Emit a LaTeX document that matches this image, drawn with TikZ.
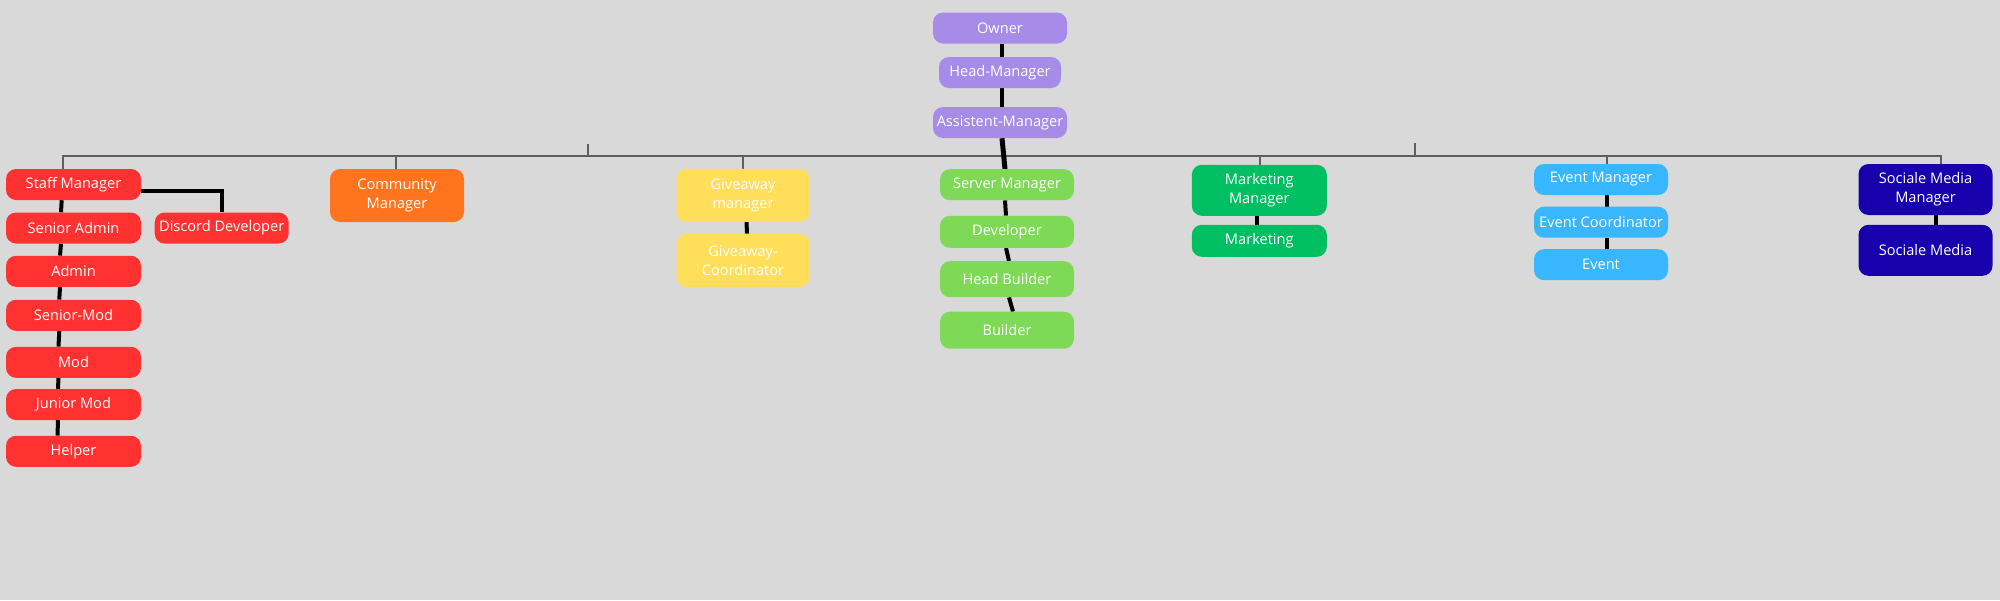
\documentclass[tikz,border=0pt]{standalone}
\usepackage{fontspec}
\setmainfont{Open Sans}
\usetikzlibrary{backgrounds}
\definecolor{bgc}{HTML}{D9D9D9}
\definecolor{cpurple}{HTML}{A68BE8}
\definecolor{cred}{HTML}{FF3131}
\definecolor{corange}{HTML}{FF751F}
\definecolor{cyellow}{HTML}{FFDE59}
\definecolor{clgreen}{HTML}{7ED957}
\definecolor{cgreen}{HTML}{00BF63}
\definecolor{cblue}{HTML}{38B6FF}
\definecolor{cdblue}{HTML}{1800AD}
\definecolor{busgray}{HTML}{5E5E5E}
\tikzset{
  box/.style={rectangle, rounded corners=10pt, minimum width=134pt, inner sep=0pt,
    text=white, align=center, font=\fontsize{14.6}{19}\selectfont},
  onel/.style={box, minimum height=31pt},
  twol/.style={box, minimum height=52pt},
  chain/.style={line width=4pt, black},
  bus/.style={line width=2pt, busgray},
}
\begin{document}
\begin{tikzpicture}[x=1pt,y=-1pt]
\useasboundingbox (0,0) rectangle (2000,600);
% top
\node[onel, fill=cpurple] (owner) at (1000,28) {Owner};
\node[onel, fill=cpurple, minimum width=122pt] (head) at (1000,72.5) {Head-Manager};
\node[onel, fill=cpurple] (asst) at (1000,122.5) {Assistent-Manager};
% staff
\node[onel, fill=cred, minimum width=135pt] (staff) at (73.5,184.5) {Staff Manager};
\node[onel, fill=cred, minimum width=135pt] (senadmin) at (73.5,228) {Senior Admin};
\node[onel, fill=cred, minimum width=135pt] (admin) at (73.5,271.3) {Admin};
\node[onel, fill=cred, minimum width=135pt] (senmod) at (73.5,315.3) {Senior-Mod};
\node[onel, fill=cred, minimum width=135pt] (mod) at (73.5,362.3) {Mod};
\node[onel, fill=cred, minimum width=135pt] (junmod) at (73.5,404.5) {Junior Mod};
\node[onel, fill=cred, minimum width=135pt] (helper) at (73.5,451.3) {Helper};
\node[onel, fill=cred] (discord) at (221.7,228) {Discord Developer};
% community
\node[twol, fill=corange, minimum height=53pt] (community) at (397,195.5) {Community\\Manager};
% giveaway
\node[twol, fill=cyellow, minimum height=53pt, minimum width=133pt] (givmgr) at (743,195.3) {Giveaway\\manager};
\node[twol, fill=cyellow, minimum height=53pt, minimum width=133pt] (givcoord) at (743,260.3) {Giveaway-\\Coordinator};
% server
\node[onel, fill=clgreen] (server) at (1007,184.7) {Server Manager};
\node[onel, fill=clgreen, minimum height=32pt] (dev) at (1007,231.8) {Developer};
\node[onel, fill=clgreen, minimum height=36pt] (hbuild) at (1007,279.2) {Head Builder};
\node[onel, fill=clgreen, minimum height=37pt] (build) at (1007,330.2) {Builder};
% marketing
\node[twol, fill=cgreen, minimum height=51pt, minimum width=135pt] (mktmgr) at (1259.3,190.3) {Marketing\\Manager};
\node[onel, fill=cgreen, minimum height=32pt, minimum width=135pt] (mkt) at (1259.3,240.8) {Marketing};
% event
\node[onel, fill=cblue] (evmgr) at (1601,179.5) {Event Manager};
\node[onel, fill=cblue] (evcoord) at (1601,222.2) {Event Coordinator};
\node[onel, fill=cblue] (event) at (1601,264.7) {Event};
% sociale
\node[twol, fill=cdblue, minimum height=51pt] (socmgr) at (1925.5,189.5) {Sociale Media\\Manager};
\node[twol, fill=cdblue, minimum height=51pt] (soc) at (1925.5,250.3) {Sociale Media};
% connectors
\coordinate (busL) at (62.5,156);
\coordinate (busR) at (1940.7,156);
\coordinate (tickA) at (588,144);
\coordinate (tickB) at (1414.5,143);
\begin{pgfonlayer}{background}
\fill[bgc] (0,0) rectangle (2000,600);
% bus
\draw[bus, line join=miter] ([xshift=-11pt]staff.north) -- (busL) -- (busR) -- ([xshift=15.2pt]socmgr.north);
\draw[bus] (tickA) -- (tickA |- busL);
\draw[bus] (tickB) -- (tickB |- busL);
\draw[bus] ([xshift=-1.3pt]community.north) -- ([xshift=-1.3pt]community.north |- busL);
\draw[bus] (givmgr.north) -- (givmgr.north |- busL);
\draw[bus] ([xshift=0.7pt]mktmgr.north) -- ([xshift=0.7pt]mktmgr.north |- busL);
\draw[bus] ([xshift=5.7pt]evmgr.north) -- ([xshift=5.7pt]evmgr.north |- busL);
% black chains
\draw[chain] ([xshift=1.7pt]owner.south) -- ([xshift=1.7pt]head.north);
\draw[chain] ([xshift=1.7pt]head.south) -- ([xshift=1.7pt]asst.north);
\draw[chain, line width=5pt] ([xshift=2pt]asst.south) -- ([xshift=-2pt]server.north);
\draw[chain] ([xshift=-2pt]server.south) -- ([xshift=-1pt]dev.north);
\draw[chain] ([xshift=-1pt]dev.south) -- ([xshift=2pt]hbuild.north);
\draw[chain] ([xshift=2pt]hbuild.south) -- ([xshift=6pt]build.north);
\draw[chain] ([xshift=-11.8pt]staff.south) -- ([xshift=-12.5pt]senadmin.north);
\draw[chain] ([xshift=-12.5pt]senadmin.south) -- ([xshift=-13.5pt]admin.north);
\draw[chain] ([xshift=-13.5pt]admin.south) -- ([xshift=-14.2pt]senmod.north);
\draw[chain] ([xshift=-14.2pt]senmod.south) -- ([xshift=-15pt]mod.north);
\draw[chain] ([xshift=-15pt]mod.south) -- ([xshift=-15.5pt]junmod.north);
\draw[chain] ([xshift=-15.5pt]junmod.south) -- ([xshift=-16pt]helper.north);
\draw[chain, line join=miter] (staff.east |- 0,190.7) -- (discord.north |- 0,190.7) -- (discord.north);
\draw[chain] ([xshift=3.5pt]givmgr.south) -- ([xshift=4pt]givcoord.north);
\draw[chain] ([xshift=-2.3pt]mktmgr.south) -- ([xshift=-2.3pt]mkt.north);
\draw[chain] ([xshift=5.7pt]evmgr.south) -- ([xshift=5.7pt]evcoord.north);
\draw[chain] ([xshift=5.7pt]evcoord.south) -- ([xshift=5.7pt]event.north);
\draw[chain] ([xshift=10.2pt]socmgr.south) -- ([xshift=10.2pt]soc.north);
\end{pgfonlayer}
\end{tikzpicture}
\end{document}
